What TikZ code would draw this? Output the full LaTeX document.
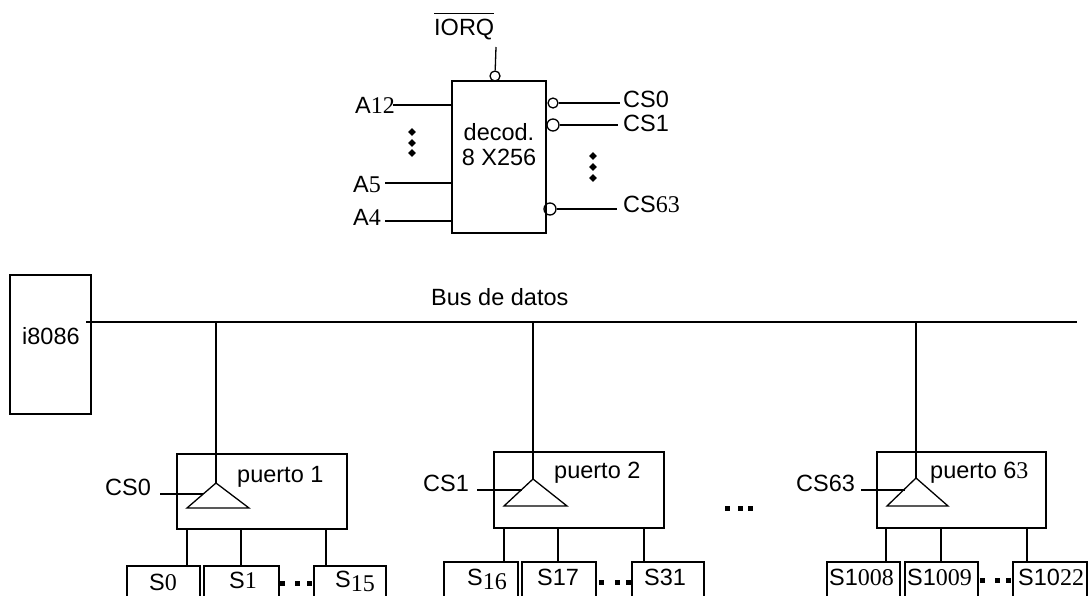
\documentclass[tikz,border=0pt]{standalone}
\usepackage{fontspec}
\setmainfont{Liberation Sans}
\newfontfamily\tmfont{Liberation Serif}
\usetikzlibrary{shapes.geometric}
\newcommand{\tm}[1]{{\fontsize{24}{24}\selectfont\tmfont #1}}
\newcommand{\tml}[1]{\raisebox{-4pt}{\tm{#1}}}
\tikzset{
  box/.style={draw,line width=1.3pt,inner sep=0pt},
  txt/.style={anchor=base west,inner sep=0pt,font=\fontsize{23.5}{25}\selectfont},
  bubble/.style={draw,circle,line width=1.3pt,inner sep=0pt,minimum size=10pt},
  dot/.style={fill,inner sep=0pt,minimum size=5pt},
  vdot/.style={fill,diamond,inner sep=0pt,minimum size=8pt},
  wire/.style={line width=1.3pt}
}
\begin{document}
\begin{tikzpicture}[x=1pt,y=-1pt]
\useasboundingbox (0,0) rectangle (1090,595);
\clip (0,0) rectangle (1090,595);
% decodificador
\node[box,minimum width=94pt,minimum height=152pt] (dec) at (499,157) {};
\node[txt] (iorq) at (434,35) {$\overline{\mbox{IORQ}\rule{0pt}{20pt}}$};
\node[txt,anchor=base] (dectxt) at (499,140) {decod.};
\node[txt,anchor=base] (dectxtb) at (499,165) {8 X256};
\node[bubble] (biorq) at (495,76) {};
\coordinate (iorqtop) at (496,47);
\draw[wire] (iorqtop) -- (biorq);
\node[txt] (a12txt) at (355,113) {A\tm{12}};
\node[txt] (a5txt) at (353,192) {A\tm{5}};
\node[txt] (a4txt) at (353,225) {A\tm{4}};
\coordinate (a12) at (393,105);
\coordinate (a5) at (385,183);
\coordinate (a4) at (385,221);
\foreach \p in {a12,a5,a4}
  \draw[wire] (\p) -- (\p -| dec.west);
\node[bubble] (b0) at (553,103) {};
\node[bubble,minimum size=12pt] (b1) at (553,125) {};
\node[bubble,minimum size=12pt] (b63) at (550,209) {};
\coordinate (o0) at (620,103);
\coordinate (o1) at (618,125);
\coordinate (o63) at (617,209);
\draw[wire] (b0) -- (o0);
\draw[wire] (b1) -- (o1);
\draw[wire] (b63) -- (o63);
\node[txt] (cs0txt) at (623,107) {CS0};
\node[txt] (cs1txt) at (623,131) {CS1};
\node[txt] (cs63txt) at (623,212) {CS\tm{63}};
\foreach \y in {132,143,153} \node[vdot] (l\y) at (412,\y) {};
\foreach \y in {156,167,178} \node[vdot] (r\y) at (593,\y) {};
% bus
\node[box,minimum width=81pt,minimum height=139pt] (cpu) at (50.5,344.5) {};
\node[txt] (cputxt) at (22,344) {i8086};
\node[txt] (bustxt) at (431,305) {Bus de datos};
\coordinate (bus) at (86,322);
\coordinate (busend) at (1077,322);
\draw[wire] (bus) -- (busend);
% puertos
\node[box,minimum width=170pt,minimum height=75pt] (p1) at (262,491.5) {};
\node[box,minimum width=170pt,minimum height=76pt] (p2) at (579,490) {};
\node[box,minimum width=169pt,minimum height=76pt] (p3) at (961.5,490) {};
\node[txt] (p1txt) at (237,482) {puerto 1};
\node[txt] (p2txt) at (554,478) {puerto 2};
\node[txt] (p3txt) at (930,478) {puerto 6\tm{3}};
\coordinate (t1) at (216,483);
\coordinate (t2) at (533,479);
\coordinate (t3) at (916,478);
\draw[wire] (t1) -- (187,508) -- (249,508) -- cycle;
\draw[wire] (t2) -- (504,506) -- (567,506) -- cycle;
\draw[wire] (t3) -- (887,506) -- (948,506) -- cycle;
\foreach \t in {t1,t2,t3}
  \draw[wire] (\t) -- (\t |- bus);
\node[txt] (c1txt) at (105,495) {CS0};
\node[txt] (c2txt) at (423,491) {CS1};
\node[txt] (c3txt) at (796,491) {CS63};
\coordinate (c1a) at (160,494);
\coordinate (c1b) at (203,494);
\coordinate (c2a) at (477,490);
\coordinate (c2b) at (522,490);
\coordinate (c3a) at (861,490);
\coordinate (c3b) at (905,490);
\draw[wire] (c1a) -- (c1b);
\draw[wire] (c2a) -- (c2b);
\draw[wire] (c3a) -- (c3b);
% salidas
\node[box,minimum width=73pt,minimum height=44pt] (s0) at (163.5,588) {};
\node[box,minimum width=75pt,minimum height=44pt] (s1) at (241.5,588) {};
\node[box,minimum width=72pt,minimum height=44pt] (s15) at (350,588) {};
\node[box,minimum width=74pt,minimum height=44pt] (s16) at (481,584) {};
\node[box,minimum width=74pt,minimum height=44pt] (s17) at (559,584) {};
\node[box,minimum width=72pt,minimum height=44pt] (s31) at (668,584) {};
\node[box,minimum width=73pt,minimum height=44pt] (s1008) at (863.5,584) {};
\node[box,minimum width=73pt,minimum height=44pt] (s1009) at (941.5,584) {};
\node[box,minimum width=74pt,minimum height=44pt] (s1022) at (1050,584) {};
\node[txt] (s0txt) at (149,590) {S\tm{0}};
\node[txt] (s1txt) at (229,588) {S\tm{1}};
\node[txt] (s15txt) at (335,587) {S\tml{15}};
\node[txt] (s16txt) at (467,585) {S\tml{16}};
\node[txt] (s17txt) at (537,585) {S17};
\node[txt] (s31txt) at (644,585) {S31};
\node[txt] (s1008txt) at (829,585) {S1\tm{008}};
\node[txt] (s1009txt) at (907,585) {S1\tm{009}};
\node[txt] (s1022txt) at (1018,585) {S10\tm{22}};
\foreach \x/\b/\s in {187/p1/s0,241/p1/s1,326/p1/s15,504/p2/s16,558/p2/s17,644/p2/s31,886/p3/s1008,941/p3/s1009,1027/p3/s1022}{
  \coordinate (st\s) at (\x,500);
  \draw[wire] (st\s |- \b.south) -- (st\s |- \s.north);
}
\foreach \x/\y in {282/583,297/583,309/583,601/582,617/582,628/582,982/580,997/580,1008/580,727/508,740/508,750/508}
  \node[dot] (dot\x) at (\x,\y) {};
\end{tikzpicture}
\end{document}
